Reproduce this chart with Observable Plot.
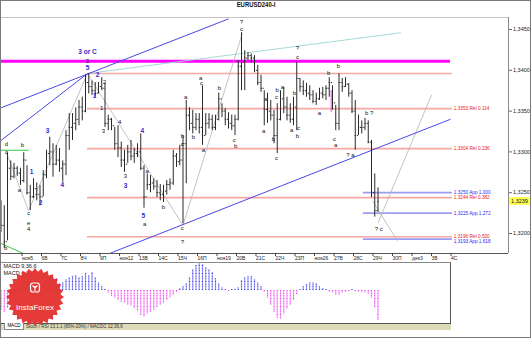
<!DOCTYPE html>
<html><head><meta charset="utf-8">
<script src="https://cdn.jsdelivr.net/npm/d3@7"></script>
<script src="https://cdn.jsdelivr.net/npm/@observablehq/plot@0.6"></script>
<style>
html,body{margin:0;padding:0;background:#fff;}
#wrap{position:relative;width:531px;height:338px;overflow:hidden;background:#fff;font-family:"Liberation Sans",Arial,sans-serif;}
#wrap svg{position:absolute;}
.abs{position:absolute;}
#border{position:absolute;left:0;top:0;width:531px;height:338px;box-sizing:border-box;border:1px solid #7a7a7a;pointer-events:none;}
#title{left:0;top:1px;width:512px;text-align:center;font-size:7px;font-weight:bold;transform:scaleX(0.85);color:#111;}
</style></head><body><div id="wrap"></div>
<script>
// ---------- DATA ----------
const firstOpen = 1.3235;
const highs = [1.3240,1.3234,1.3299,1.3289,1.3286,1.3282,1.3280,1.3299,1.3283,1.3259,
1.3267,1.3262,1.3259,1.3277,1.3302,1.3318,1.3310,1.3308,1.3304,1.3289,
1.3326,1.3347,1.3347,1.3354,1.3363,1.3367,1.3394,1.3396,1.3387,1.3385,
1.3385,1.3391,1.3384,1.3345,1.3341,1.3330,1.3332,1.3312,1.3302,1.3308,
1.3314,1.3304,1.3310,1.3322,1.3283,1.3273,1.3271,1.3267,1.3265,1.3260,
1.3259,1.3265,1.3267,1.3302,1.3298,1.3308,1.3320,1.3363,1.3354,1.3351,
1.3347,1.3347,1.3381,1.3347,1.3347,1.3345,1.3345,1.3372,1.3359,1.3353,
1.3348,1.3345,1.3345,1.3412,1.3446,1.3424,1.3422,1.3420,1.3418,1.3406,
1.3394,1.3375,1.3372,1.3363,1.3351,1.3359,1.3375,1.3379,1.3367,1.3359,
1.3367,1.3410,1.3390,1.3387,1.3384,1.3381,1.3375,1.3372,1.3378,1.3379,
1.3381,1.3391,1.3381,1.3357,1.3396,1.3390,1.3391,1.3384,1.3375,1.3363,
1.3345,1.3338,1.3341,1.3338,1.3314,1.3273,1.3256];
const lows = [1.3201,1.3182,1.3191,1.3265,1.3267,1.3270,1.3259,1.3262,1.3247,1.3228,
1.3243,1.3240,1.3234,1.3245,1.3267,1.3283,1.3269,1.3283,1.3275,1.3263,
1.3271,1.3302,1.3314,1.3326,1.3332,1.3338,1.3348,1.3371,1.3369,1.3367,
1.3371,1.3375,1.3330,1.3326,1.3326,1.3302,1.3293,1.3281,1.3275,1.3286,
1.3289,1.3286,1.3293,1.3277,1.3231,1.3253,1.3250,1.3253,1.3244,1.3240,
1.3238,1.3247,1.3253,1.3259,1.3281,1.3283,1.3212,1.3261,1.3326,1.3322,
1.3326,1.3322,1.3308,1.3320,1.3328,1.3326,1.3326,1.3338,1.3342,1.3332,
1.3328,1.3326,1.3320,1.3338,1.3375,1.3375,1.3412,1.3409,1.3397,1.3381,
1.3373,1.3332,1.3335,1.3338,1.3310,1.3298,1.3338,1.3347,1.3338,1.3335,
1.3332,1.3326,1.3373,1.3369,1.3367,1.3363,1.3359,1.3357,1.3363,1.3365,
1.3363,1.3367,1.3351,1.3326,1.3326,1.3373,1.3379,1.3367,1.3347,1.3302,
1.3320,1.3322,1.3326,1.3310,1.3244,1.3220,1.3226];
const closes = [1.3210,1.3190,1.3280,1.3270,1.3280,1.3274,1.3265,1.3290,1.3250,1.3245,
1.3255,1.3248,1.3245,1.3272,1.3298,1.3300,1.3285,1.3290,1.3280,1.3285,
1.3320,1.3330,1.3335,1.3340,1.3355,1.3350,1.3385,1.3380,1.3375,1.3372,
1.3380,1.3378,1.3335,1.3340,1.3332,1.3310,1.3305,1.3290,1.3285,1.3300,
1.3295,1.3298,1.3300,1.3280,1.3245,1.3260,1.3262,1.3258,1.3250,1.3248,
1.3252,1.3260,1.3262,1.3295,1.3288,1.3290,1.3310,1.3345,1.3335,1.3330,
1.3340,1.3330,1.3320,1.3335,1.3340,1.3330,1.3340,1.3365,1.3350,1.3340,
1.3335,1.3332,1.3340,1.3405,1.3410,1.3415,1.3418,1.3415,1.3400,1.3385,
1.3378,1.3352,1.3350,1.3345,1.3320,1.3340,1.3365,1.3355,1.3345,1.3340,
1.3355,1.3390,1.3380,1.3375,1.3372,1.3370,1.3362,1.3365,1.3372,1.3370,
1.3378,1.3385,1.3360,1.3335,1.3385,1.3380,1.3383,1.3372,1.3350,1.3320,
1.3330,1.3330,1.3335,1.3312,1.3250,1.3228,1.3239];
const macdValues = [-0.0020,-0.0022,-0.0018,-0.0010,-0.0004,0.0002,0.0006,0.0009,0.0009,0.0008,
0.0008,0.0007,0.0006,0.0007,0.0010,0.0013,0.0013,0.0012,0.0007,0.0008,
0.0011,0.0013,0.0014,0.0015,0.0013,0.0014,0.0017,0.0015,0.0018,0.0013,
0.0008,0.0004,0.0001,-0.0003,-0.0006,-0.0008,-0.0010,-0.0012,-0.0013,-0.0015,
-0.0016,-0.0018,-0.0021,-0.0025,-0.0027,-0.0024,-0.0022,-0.0020,-0.0017,-0.0015,
-0.0013,-0.0010,-0.0008,-0.0005,-0.0002,0.0002,0.0004,0.0007,0.0013,0.0021,
0.0025,0.0027,0.0026,0.0023,0.0021,0.0018,0.0012,0.0007,0.0003,0.0001,
-0.0001,0.0001,0.0001,0.0003,0.0010,0.0013,0.0014,0.0014,0.0011,0.0008,
0.0004,-0.0002,-0.0008,-0.0015,-0.0022,-0.0028,-0.0029,-0.0024,-0.0019,-0.0015,
-0.0010,-0.0004,0.0001,0.0004,0.0006,0.0008,0.0008,0.0007,0.0004,0.0002,
0.0001,-0.0002,-0.0003,-0.0005,-0.0005,-0.0003,-0.0002,-0.0001,0.0001,-0.0001,
-0.0002,-0.0002,-0.0003,-0.0004,-0.0008,-0.0017,-0.0030];

const dayTickIdx = [6,12,18,24,30,36,42,48,54,60,66,72,78,84,90,96,102,108,114,120,126,132,138];
const dayTickLabels = ["ноя5","6В","7С","8Ч","9П","ноя12","13В","14С","15Ч","16П","ноя19","20В","21С","22Ч","23П","ноя26","27В","28С","29Ч","30П","дек3","3В","4С"];
const priceTicks = [1.3200,1.3250,1.3300,1.3350,1.3400,1.3450];

const magentaLevel = [1.3411];
const retLevels = [1.3396,1.3353,1.3304,1.3244,1.3196];
const retRatios = [null,"0.114","0.236","0.382","0.500"];
const appLevels = [1.3250,1.3225,1.3193];
const appRatios = ["1.000","1.272","1.618"];
const magentaVertical = [[101.6,1.3375,1.3348]];

const blueLines = [[0,1.3354,70,1.3463],[33.7,1.3176,138.3,1.3340],[0,1.3314,26.6,1.3396]];
const tealLines = [[26.6,1.3396,123,1.3446]];
const grayLines = [[1.7,1.3299,8.5,1.3228],[8.5,1.3228,26.6,1.3396],[26.6,1.3396,56,1.3210],[56,1.3210,74.3,1.3446],[116,1.3213,132.5,1.3370],[114.3,1.3240,122,1.3191]];
const greenLines = [[-0.15,1.3302,8.5,1.3302],[-0.15,1.3188,6.6,1.3176]];

const blueLabelText = ["3 or C","5","2","1","1","2","3","4","4","3","5"];
const blueLabelIdx = [26.6,26.6,29.7,28.8,9.4,12.2,14.3,18.9,43.5,38.3,43.8];
const blueLabelPrice = [1.3422,1.3403,1.3394,1.3369,1.3275,1.3237,1.3326,1.3259,1.3326,1.3258,1.3222];

const blackLabelText = ["d","c","b","a","c","e","4","b","3","2","1","3","4","3","a","a","b","c","?","b","c","a","b","a","a","c","b","?","c","c","b","a","a","b","c","a","b","c","b","?","c","a","c","b","a","b","b","c","a","? a","b ?","? c"];
const blackLabelIdx = [1.7,1.7,6.6,5.7,8.5,8.5,8.5,1.4,26.6,31.9,31.0,31.5,36.5,38.3,45.0,44.2,50.0,55.8,55.8,55.8,55.8,56.8,59.2,62.3,61.4,61.7,67.2,74.0,74.0,71.8,72.2,80.8,81.4,85.0,84.8,86.6,83.8,84.8,90.3,91.2,91.2,89.4,91.5,91.2,98.0,100.8,103.8,102.6,103.0,107.5,113.3,116.2];
const blackLabelPrice = [1.3310,1.3300,1.3308,1.3253,1.3225,1.3213,1.3206,1.3182,1.3411,1.3385,1.3354,1.3325,1.3337,1.3270,1.3277,1.3212,1.3232,1.3207,1.3189,1.3320,1.3310,1.3367,1.3318,1.3302,1.3391,1.3384,1.3378,1.3459,1.3450,1.3315,1.3307,1.3326,1.3365,1.3376,1.3367,1.3379,1.3316,1.3293,1.3372,1.3427,1.3416,1.3327,1.3329,1.3320,1.3347,1.3396,1.3405,1.3316,1.3308,1.3296,1.3347,1.3205];

// ---------- LAYOUT (scale calibration) ----------
const priceDomain = [1.31755,1.34647];
const xDomainPrice = [-0.154,156.15];
const xDomainMacd = [-0.154,138.31];
const retSpan = [26.6,138.9];
const appSpan = [111.5,138.9];
const magentaSpan = [-0.154,138.3];
const fibLabelIdx = 139.0;

const fmt = d => d.toFixed(4).replace(".", ",");
const bars = highs.map((h,i)=>({i, h, l:lows[i], c:closes[i], o: i===0 ? firstOpen : closes[i-1]}));
const macdData = macdValues.map((v,i)=>({i,v}));
const seg = arr => arr.map(([i1,p1,i2,p2])=>({i1,p1,i2,p2}));
const labelMap = new Map(dayTickIdx.map((d,k)=>[d, dayTickLabels[k]]));
const blueLabels = blueLabelText.map((t,k)=>({t, i:blueLabelIdx[k], p:blueLabelPrice[k]}));
const blackLabels = blackLabelText.map((t,k)=>({t, i:blackLabelIdx[k], p:blackLabelPrice[k]}));
const retData = retLevels.map((p,k)=>({p, r:retRatios[k]})).filter(d=>d.r);
const appData = appLevels.map((p,k)=>({p, r:appRatios[k]}));
const FONT = "Liberation Sans, Arial, sans-serif";

const wrap = document.getElementById("wrap");

const price = Plot.plot({
  width:531, height:262, marginTop:17, marginBottom:9, marginLeft:0, marginRight:23,
  style:{background:"transparent", fontFamily:FONT, color:"#222"},
  x:{domain:xDomainPrice},
  y:{domain:priceDomain},
  marks:[
    Plot.ruleY([priceDomain[1]],{stroke:"#c4c4c4"}),
    Plot.ruleY(retLevels,{x1:retSpan[0], x2:retSpan[1], stroke:"#f6a8a4", strokeWidth:1.6}),
    Plot.ruleY(appLevels,{x1:appSpan[0], x2:appSpan[1], stroke:"#9c9cf0", strokeWidth:1.8}),
    Plot.ruleY(magentaLevel,{x1:magentaSpan[0], x2:magentaSpan[1], stroke:"#ff00ff", strokeWidth:3}),
    Plot.link(seg(tealLines),{x1:"i1",y1:"p1",x2:"i2",y2:"p2",stroke:"#a6d9d6",strokeWidth:1}),
    Plot.link(seg(grayLines),{x1:"i1",y1:"p1",x2:"i2",y2:"p2",stroke:"#b4b4b4",strokeWidth:0.8}),
    Plot.link(seg(greenLines),{x1:"i1",y1:"p1",x2:"i2",y2:"p2",stroke:"#3cc43c",strokeWidth:1}),
    Plot.link(seg(blueLines),{x1:"i1",y1:"p1",x2:"i2",y2:"p2",stroke:"#4848e6",strokeWidth:1}),
    Plot.ruleX(magentaVertical,{x:d=>d[0], y1:d=>d[1], y2:d=>d[2], stroke:"#ff40ff", strokeWidth:1}),
    Plot.ruleX(bars,{x:"i", y1:"l", y2:"h", stroke:"#2a2a2a", strokeWidth:1}),
    Plot.ruleY(bars,{y:"o", x1:d=>d.i-0.38, x2:"i", stroke:"#2a2a2a", strokeWidth:1}),
    Plot.ruleY(bars,{y:"c", x1:"i", x2:d=>d.i+0.38, stroke:"#2a2a2a", strokeWidth:1}),
    Plot.text(blueLabels,{x:"i", y:"p", text:"t", fill:"#2b2bd6", fontSize:6.5, fontWeight:"bold"}),
    Plot.text(blackLabels,{x:"i", y:"p", text:"t", fill:"#111", fontSize:6}),
    Plot.text(retData,{x:fibLabelIdx, y:"p", text:d=>`${fmt(d.p)} Ret ${d.r}`, textAnchor:"start", dx:1, fill:"#f02020", fontSize:4.7}),
    Plot.text(appData.slice(0,2),{x:fibLabelIdx, y:"p", text:d=>`${fmt(d.p)} App ${d.r}`, textAnchor:"start", dx:1, fill:"#2a2af0", fontSize:4.7}),
    Plot.text(appData.slice(2),{x:fibLabelIdx, y:"p", text:d=>`${fmt(d.p)} App ${d.r}`, textAnchor:"start", dx:1, dy:1.8, fill:"#2a2af0", fontSize:4.7}),
    Plot.ruleY([priceDomain[0]],{stroke:"#555"}),
    Plot.ruleX([xDomainPrice[1]],{stroke:"#888"}),
    Plot.axisY(priceTicks,{anchor:"right", tickFormat:fmt, tickSize:3, tickPadding:1.5, fontSize:5.5, label:null, stroke:"#666"}),
    Plot.axisX(dayTickIdx,{anchor:"bottom", tickFormat:d=>labelMap.get(d), tickSize:3, tickPadding:0, textAnchor:"start", dx:1.5, fontSize:5, label:null, stroke:"#444"})
  ]
});
price.style.left="0px"; price.style.top="0px";
wrap.appendChild(price);

// current price box
const sy = price.scale("y");
const yNow = sy.apply ? sy.apply(closes[closes.length-1]) : d3.scaleLinear(sy.domain, sy.range)(closes[closes.length-1]);
const box = document.createElement("div");
box.className="abs";
Object.assign(box.style,{left:"509px",top:(yNow-4)+"px",width:"21px",height:"8px",background:"#ffff55",fontSize:"5.5px",lineHeight:"8px",textAlign:"center",color:"#111"});
box.textContent = fmt(closes[closes.length-1]);
wrap.appendChild(box);

// MACD panel
const macd = Plot.plot({
  width:450, height:61, marginTop:0, marginBottom:0, marginLeft:0, marginRight:0,
  style:{background:"transparent", fontFamily:FONT},
  x:{domain:xDomainMacd, axis:null},
  y:{domain:[-0.0033,0.0028], axis:null},
  marks:[
    Plot.ruleX(macdData.filter(d=>d.v>=0),{x:"i", y1:0, y2:"v", stroke:"#3434ee", strokeWidth:1.2, strokeDasharray:"1,0.6"}),
    Plot.ruleX(macdData.filter(d=>d.v<0),{x:"i", y1:0, y2:"v", stroke:"#f03cf0", strokeWidth:1.2, strokeDasharray:"1,0.6"}),
    Plot.text(["MACD 9,36,6"],{frameAnchor:"top-left", dx:3, dy:2, fontSize:5.5, fill:"#111"}),
    Plot.text(["MACD ="],{frameAnchor:"top-left", dx:3, dy:9, fontSize:5.5, fill:"#111"}),
    Plot.text(["0.00"],{frameAnchor:"top-left", dx:25, dy:9, fontSize:5.5, fill:"#ff30ff"})
  ]
});
macd.style.left="0px"; macd.style.top="262px";
wrap.appendChild(macd);

const mbox = document.createElement("div");
mbox.className="abs";
Object.assign(mbox.style,{left:"0px",top:"262px",width:"451px",height:"62px",boxSizing:"border-box",border:"1px solid #555",borderTopColor:"#888"});
wrap.appendChild(mbox);

const strip = document.createElement("div");
strip.className="abs";
Object.assign(strip.style,{left:"1px",top:"324px",width:"450px",height:"6px",background:"#dedab8"});
wrap.appendChild(strip);

const tab = document.createElement("div");
tab.className="abs";
Object.assign(tab.style,{left:"4px",top:"323px",width:"18px",height:"6px",background:"#fff",border:"1px solid #888",borderTop:"none",fontSize:"4.5px",lineHeight:"6px",textAlign:"center"});
tab.textContent="MACD";
wrap.appendChild(tab);

const stxt = document.createElement("div");
stxt.className="abs";
Object.assign(stxt.style,{left:"26px",top:"324px",fontSize:"4.5px",lineHeight:"6px",color:"#333",whiteSpace:"nowrap"});
stxt.textContent="Stoch / RSI 13,1,1 (80%-20%) / MACDC 12,36,6";
wrap.appendChild(stxt);

// InstaForex badge
const logo = d3.create("svg").attr("width",72).attr("height",66).style("left","0px").style("top","266px").style("opacity",0.95);
const cx=35, cy=31, n=28, ro=29, ri=25.5;
const pts = d3.range(2*n).map(k=>{const a=k*Math.PI/n; const r=k%2?ri:ro; return [cx+r*Math.sin(a), cy-r*Math.cos(a)];});
logo.append("polygon").attr("points",pts.map(p=>p.join(",")).join(" ")).attr("fill","#e3302e");
logo.append("rect").attr("x",cx-4.5).attr("y",cy-14).attr("width",9).attr("height",9).attr("rx",2.5).attr("fill","none").attr("stroke","#fff").attr("stroke-width",1.2);
logo.append("path").attr("d",`M${cx},${cy-6} V${cy-11} M${cx-2.5},${cy-11.5} L${cx},${cy-9} L${cx+2.5},${cy-11.5}`).attr("stroke","#fff").attr("stroke-width",1.2).attr("fill","none");
logo.append("text").attr("x",cx).attr("y",cy+13).attr("text-anchor","middle").attr("fill","#fff").attr("font-size",8).attr("font-family",FONT).text("InstaForex");
wrap.appendChild(logo.node());

const title = document.createElement("div");
title.className="abs"; title.id="title";
title.textContent="EURUSD240-I";
wrap.appendChild(title);

const border = document.createElement("div");
border.id="border";
wrap.appendChild(border);
</script></body></html>
